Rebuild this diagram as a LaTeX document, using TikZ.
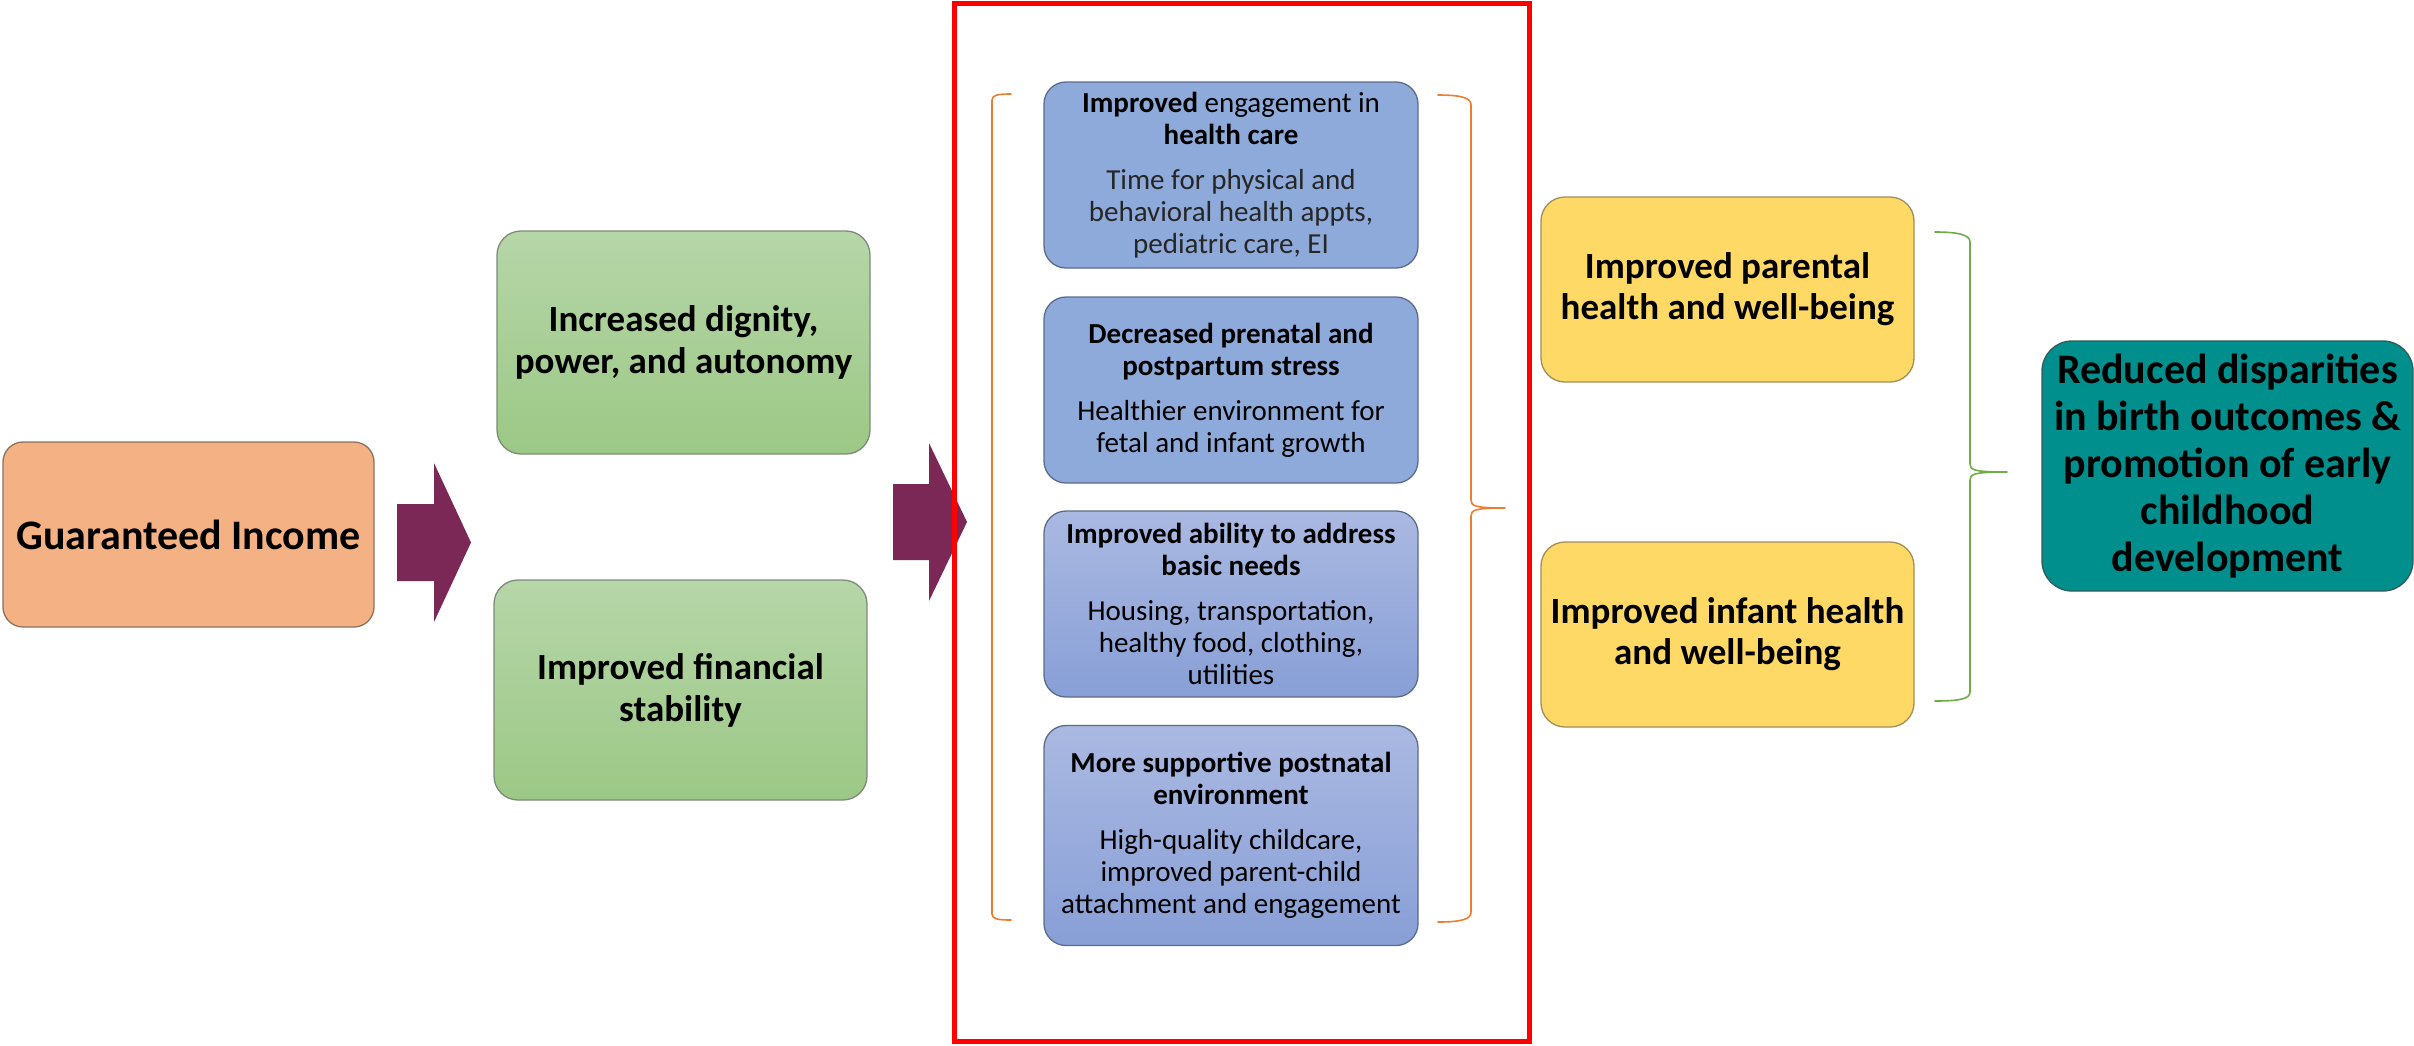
\documentclass[tikz,border=0pt]{standalone}
\usepackage{fontspec}
\setmainfont{Carlito}
\definecolor{giFill}{HTML}{F4B183}
\definecolor{giDraw}{HTML}{8C7262}
\definecolor{grTop}{HTML}{B6D6A8}
\definecolor{grBot}{HTML}{9CC886}
\definecolor{grDraw}{HTML}{7F8A78}
\definecolor{blFlat}{HTML}{8EAADB}
\definecolor{blTop}{HTML}{AAB9E2}
\definecolor{blBot}{HTML}{889FD6}
\definecolor{blDraw}{HTML}{5C6B8C}
\definecolor{ylFill}{HTML}{FFD966}
\definecolor{ylDraw}{HTML}{A08D5C}
\definecolor{tlFill}{HTML}{008F8C}
\definecolor{tlDraw}{HTML}{2F5C5C}
\definecolor{plum}{HTML}{7B2857}
\definecolor{brOrange}{HTML}{ED7D31}
\definecolor{brGreen}{HTML}{70AD47}
\definecolor{frameRed}{HTML}{FF0000}
\begin{document}
\begin{tikzpicture}[x=1pt,y=-1pt,
  box/.style={rounded corners=20pt, line width=1.3pt, align=center, inner sep=0pt, text=black},
  gibox/.style={box, fill=giFill, draw=giDraw, minimum width=371pt, minimum height=185pt,
    font=\fontsize{42}{48}\selectfont\bfseries},
  grbox/.style={box, rounded corners=24pt, top color=grTop, bottom color=grBot, draw=grDraw,
    minimum width=373pt, font=\fontsize{37}{42}\selectfont\bfseries},
  blbox/.style={box, rounded corners=22pt, draw=blDraw, minimum width=374pt,
    font=\fontsize{29}{32}\selectfont},
  ylbox/.style={box, rounded corners=24pt, fill=ylFill, draw=ylDraw, minimum width=373pt,
    minimum height=185pt, font=\fontsize{37}{41}\selectfont\bfseries},
  tlbox/.style={box, rounded corners=30pt, fill=tlFill, draw=tlDraw, minimum width=371pt,
    minimum height=250pt, font=\fontsize{42}{47}\selectfont\bfseries},
  blockarrow/.style={fill=plum},
  bracket/.style={line width=1.6pt, line cap=round, line join=round},
]
\useasboundingbox (0,0) rectangle (2414,1045);

% left column
\node[gibox] (gi) at (188.5,534.5) {Guaranteed Income};

\node[grbox, minimum height=223pt] (dig) at (683.5,342.5) {Increased dignity,\\power, and autonomy};
\node[grbox, minimum height=220pt] (fin) at (680.5,690) {Improved financial\\stability};

% block arrows
\fill[blockarrow] (397,504) -- (434,504) -- (434,463) -- (471,542.5) -- (434,622) -- (434,581) -- (397,581) -- cycle;
\fill[blockarrow] (893,484) -- (929,484) -- (929,443) -- (967,522) -- (929,601) -- (929,560) -- (893,560) -- cycle;

% blue boxes
\node[blbox, fill=blFlat, minimum height=186pt] (b1) at (1231,175)
  {{\bfseries Improved} engagement in\\{\bfseries health care}\\[13pt]
   {\color{black!85}Time for physical and}\\{\color{black!85}behavioral health appts,}\\{\color{black!85}pediatric care, EI}};
\node[blbox, fill=blFlat, minimum height=186pt] (b2) at (1231,390)
  {{\bfseries Decreased prenatal and}\\{\bfseries postpartum stress}\\[13pt]
   Healthier environment for\\fetal and infant growth};
\node[blbox, top color=blTop, bottom color=blBot, minimum height=186pt] (b3) at (1231,604)
  {{\bfseries Improved ability to address}\\{\bfseries basic needs}\\[13pt]
   Housing, transportation,\\healthy food, clothing,\\utilities};
\node[blbox, top color=blTop, bottom color=blBot, minimum height=220pt] (b4) at (1231,835.5)
  {{\bfseries More supportive postnatal}\\{\bfseries environment}\\[13pt]
   High-quality childcare,\\improved parent-child\\attachment and engagement};

% orange brackets
\draw[bracket, brOrange] (1011,94) .. controls (998,94) and (992,95) .. (992,100) -- (992,914) .. controls (992,919) and (998,920) .. (1011,920);
\draw[bracket, brOrange] (1438,95) .. controls (1462,95) and (1471,98) .. (1471,105) -- (1471,500)
  .. controls (1471,506) and (1475,508) .. (1505,508)
  .. controls (1475,508) and (1471,510) .. (1471,516) -- (1471,912)
  .. controls (1471,919) and (1462,922) .. (1438,922);

% red frame
\draw[frameRed, line width=5pt] (954,3) rectangle (1529,1041);

% yellow boxes
\node[ylbox] (par) at (1727.5,289.5) {Improved parental\\health and well-being};
\node[ylbox] (inf) at (1727.5,634.5) {Improved infant health\\and well-being};

% green brace
\draw[bracket, brGreen] (1935,232) .. controls (1959,232) and (1970,235) .. (1970,242) -- (1970,464)
  .. controls (1970,470) and (1974,472) .. (2007,472)
  .. controls (1974,472) and (1970,474) .. (1970,480) -- (1970,692)
  .. controls (1970,699) and (1959,701) .. (1935,701);

% outcome
\node[tlbox] (out) at (2227.5,466) {Reduced disparities\\in birth outcomes \&\\promotion of early\\childhood\\development};
\end{tikzpicture}
\end{document}
